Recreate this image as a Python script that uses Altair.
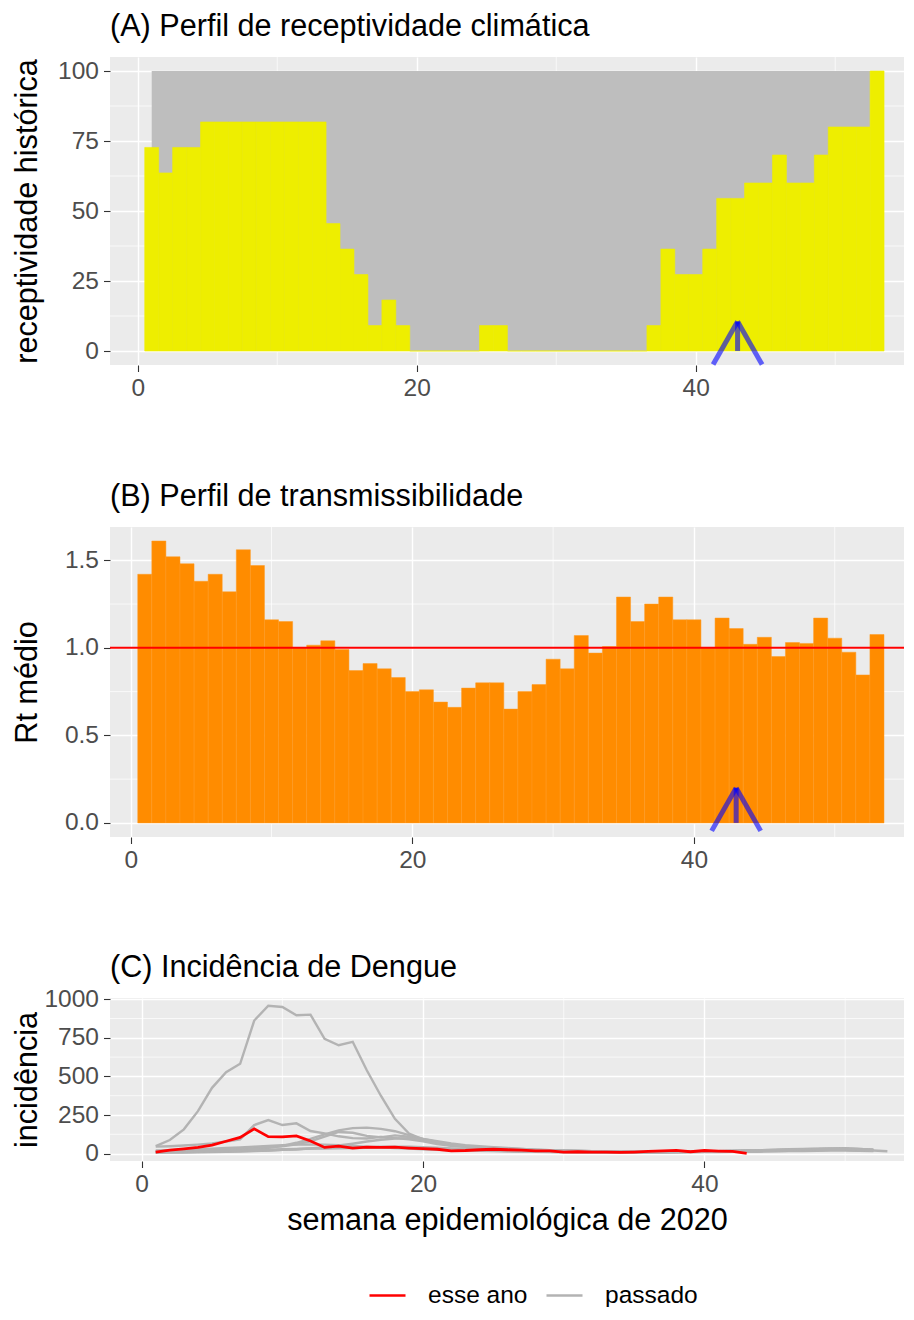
import altair as alt
import pandas as pd

FONT = "Liberation Sans"
BG = "#ebebeb"

# ---------------- data ----------------
weeks = list(range(1, 54))
receptividade = [72.7, 63.6, 72.7, 72.7, 81.8, 81.8, 81.8, 81.8, 81.8, 81.8,
                 81.8, 81.8, 81.8, 45.5, 36.4, 27.3, 9.1, 18.2, 9.1, 0,
                 0, 0, 0, 0, 9.1, 9.1, 0, 0, 0, 0,
                 0, 0, 0, 0, 0, 0, 9.1, 36.4, 27.3, 27.3,
                 36.4, 54.5, 54.5, 60, 60, 70, 60, 60, 70, 80,
                 80, 80, 100]
hist_start = [1.0]
hist_end = [52.5]
hist_top = [100]

rt_medio = [1.42, 1.61, 1.52, 1.48, 1.38, 1.42, 1.32, 1.56, 1.47, 1.16,
            1.15, 1.00, 1.015, 1.04, 0.99, 0.87, 0.91, 0.88, 0.83, 0.75,
            0.76, 0.69, 0.66, 0.77, 0.80, 0.80, 0.65, 0.75, 0.79, 0.935,
            0.88, 1.07, 0.97, 1.007, 1.29, 1.15, 1.25, 1.29, 1.16, 1.16,
            1.00, 1.17, 1.11, 1.02, 1.06, 0.95, 1.03, 1.025, 1.17, 1.055,
            0.975, 0.845, 1.076]
rt_ref = [1.0]

semana_atual = [43]
ponta_a = [10.5]
ponta_b = [0.2]

inc_2020 = [10, 22, 30, 40, 55, 80, 105, 160, 110, 108, 115, 82, 40, 48, 35,
            42, 40, 42, 36, 32, 28, 18, 20, 25, 28, 25, 22, 18, 18, 10,
            12, 10, 10, 8, 10, 14, 18, 21, 12, 20, 16, 14, 2]

inc_passado = {
    "p1": [49, 88, 157, 275, 426, 527, 582, 862, 958, 950, 896, 900, 743, 702, 724,
           540, 375, 225, 130, 92, 70, 52, 44, 38, 33, 30, 27, 24, 20, 18,
           16, 14, 13, 12, 11, 11, 10, 10, 12, 11, 10, 12, 13, 14, 16,
           18, 20, 22, 25, 24, 22, 18],
    "p2": [45, 48, 52, 58, 66, 78, 92, 185, 217, 185, 196, 146, 131, 112, 100,
           98, 108, 100, 92, 80, 62, 50, 45, 42, 38, 34, 30, 26, 22, 20,
           18, 16, 15, 14, 13, 12, 12, 13, 15, 14, 16, 18, 20, 22, 25,
           28, 30, 32, 34, 35, 30, 25],
    "p3": [10, 12, 14, 16, 18, 20, 25, 30, 38, 50, 70, 95, 125, 150, 165,
           168, 160, 145, 120, 95, 75, 60, 50, 42, 36, 30, 26, 22, 20, 18,
           16, 14, 12, 12, 11, 10, 10, 11, 12, 13, 14, 15, 16, 18, 20,
           22, 24, 26, 28, 30, 28, 24],
    "p4": [15, 17, 19, 21, 24, 27, 30, 35, 40, 48, 60, 80, 110, 140, 135,
           115, 105, 118, 110, 90, 70, 55, 45, 38, 32, 28, 24, 20, 18, 16,
           14, 12, 11, 10, 10, 9, 9, 10, 11, 12, 13, 14, 15, 16, 18,
           20, 22, 24, 26, 25, 22, 20],
    "p5": [8, 9, 10, 11, 12, 14, 16, 18, 20, 24, 28, 34, 42, 52, 64,
           78, 90, 98, 100, 95, 80, 65, 55, 48, 42, 36, 30, 26, 22, 20,
           18, 16, 14, 13, 12, 11, 11, 12, 13, 14, 15, 16, 18, 20, 22,
           24, 26, 28, 30, 32, 30, 26],
    "p6": [20, 22, 25, 28, 32, 36, 40, 45, 50, 55, 58, 60, 58, 55, 50,
           45, 40, 36, 32, 28, 25, 22, 20, 18, 16, 14, 12, 11, 10, 9,
           8, 8, 7, 7, 7, 7, 8, 8, 9, 10, 11, 12, 13, 14, 15,
           16, 17, 18, 19, 20, 18, 16],
    "p7": [5, 6, 7, 8, 10, 12, 14, 16, 20, 24, 28, 32, 35, 38, 40,
           42, 44, 45, 44, 42, 38, 34, 30, 26, 22, 19, 16, 14, 12, 10,
           9, 8, 8, 7, 7, 8, 9, 10, 12, 14, 16, 18, 20, 22, 24,
           26, 28, 30, 32, 30, 26, 20, 15],
    "p8": [12, 13, 14, 15, 16, 18, 20, 22, 25, 28, 30, 32, 34, 35, 36,
           38, 40, 40, 38, 36, 33, 30, 27, 24, 21, 18, 16, 14, 12, 11,
           10, 9, 9, 8, 8, 8, 9, 10, 11, 12, 14, 16, 18, 20, 22,
           24, 26, 28, 30, 28, 25, 22],
}

x_ticks = [0, 20, 40]
x_minor = [10, 30, 50]
ya_ticks = [0, 25, 50, 75, 100]
ya_minor = [12.5, 37.5, 62.5, 87.5]
yb_ticks = [0, 0.5, 1.0, 1.5]
yb_minor = [0.25, 0.75, 1.25]
yc_ticks = [0, 250, 500, 750, 1000]
yc_minor = [125, 375, 625, 875]

# ---------------- tables ----------------
df_a = pd.DataFrame({"semana": weeks, "valor": receptividade})
df_a["x0"] = df_a["semana"] - 0.5
df_a["x1"] = df_a["semana"] + 0.5
df_a["base"] = 0.0
df_hist = pd.DataFrame({"ini": hist_start, "fim": hist_end, "topo": hist_top})
df_hist["base"] = 0.0
df_b = pd.DataFrame({"semana": weeks, "rt": rt_medio})
df_b["x0"] = df_b["semana"] - 0.5
df_b["x1"] = df_b["semana"] + 0.5
df_b["base"] = 0.0
df_ref = pd.DataFrame({"rt": rt_ref})
df_arrow_a = pd.DataFrame({"semana": semana_atual, "ponta": ponta_a, "base": [0.0]})
df_arrow_b = pd.DataFrame({"semana": semana_atual, "ponta": ponta_b, "base": [0.0]})

rows = []
for ano, vals in inc_passado.items():
    for i, v in enumerate(vals):
        rows.append({"ano": ano, "semana": i + 1, "inc": v, "tipo": "passado"})
df_past = pd.DataFrame(rows)
df_now = pd.DataFrame({"ano": "2020", "semana": list(range(1, len(inc_2020) + 1)),
                       "inc": inc_2020, "tipo": "esse ano"})

# ---------------- helpers ----------------
TS = 30.6   # title size
LS = 24.5   # tick label size
AX = dict(grid=True, gridColor="white", gridWidth=1.4, domain=False,
          tickColor="#333333", tickSize=6.5, tickWidth=1.1, labelFont=FONT,
          labelFontSize=LS, labelColor="#4d4d4d", labelPadding=5, titleFont=FONT,
          titleFontSize=TS, titleFontWeight="normal", titleColor="black")


def x_axis(title=None):
    return alt.Axis(values=x_ticks, title=title, titlePadding=9.5, **AX)


def y_axis(values, title, pad, fmt):
    return alt.Axis(values=values, title=title, titlePadding=pad, format=fmt, **AX)


def minor_layers(xs, ys, xax, yax, xvals, yvals):
    gx = alt.Chart(pd.DataFrame({"v": xvals})).mark_rule(
        color="white", strokeWidth=0.7).encode(x=alt.X("v:Q", scale=xs, axis=xax))
    gy = alt.Chart(pd.DataFrame({"v": yvals})).mark_rule(
        color="white", strokeWidth=0.7).encode(y=alt.Y("v:Q", scale=ys, axis=yax))
    return [gx, gy]


def ptitle(text, off):
    return alt.TitleParams(text=text, anchor="start", frame="group", font=FONT,
                           fontSize=TS, fontWeight="normal", color="black",
                           offset=off)


def arrow_layers(df, xs, ys, xax, yax):
    st = dict(color="blue", opacity=0.6, strokeWidth=5)
    shaft = alt.Chart(df).mark_rule(**st).encode(
        x=alt.X("semana:Q", scale=xs, axis=xax),
        y=alt.Y("base:Q", scale=ys, axis=yax),
        y2=alt.Y2("ponta:Q"))
    left = alt.Chart(df).mark_rule(x2Offset=-24.5, y2Offset=43, **st).encode(
        x=alt.X("semana:Q", scale=xs, axis=xax), x2=alt.X2("semana:Q"),
        y=alt.Y("ponta:Q", scale=ys, axis=yax), y2=alt.Y2("ponta:Q"))
    right = alt.Chart(df).mark_rule(x2Offset=24.5, y2Offset=43, **st).encode(
        x=alt.X("semana:Q", scale=xs, axis=xax), x2=alt.X2("semana:Q"),
        y=alt.Y("ponta:Q", scale=ys, axis=yax), y2=alt.Y2("ponta:Q"))
    return [shaft, left, right]

W = 794

# ---------------- panel A ----------------
xa = alt.Scale(domain=[-1.99, 54.93], nice=False, zero=False)
ya = alt.Scale(domain=[-5, 105], nice=False, zero=False)
xax_a = x_axis()
yax_a = y_axis(ya_ticks, "receptividade histórica", 15, "d")

hist = alt.Chart(df_hist).mark_rect(color="#bebebe").encode(
    x=alt.X("ini:Q", scale=xa, axis=xax_a),
    x2=alt.X2("fim:Q"),
    y=alt.Y("base:Q", scale=ya, axis=yax_a),
    y2=alt.Y2("topo:Q"))
bars_a = alt.Chart(df_a).mark_rect(color="#eeee00", stroke="#eeee00",
                                   strokeWidth=0.6).encode(
    x=alt.X("x0:Q", scale=xa, axis=xax_a), x2=alt.X2("x1:Q"),
    y=alt.Y("base:Q", scale=ya, axis=yax_a), y2=alt.Y2("valor:Q"))

panel_a = alt.layer(*minor_layers(xa, ya, xax_a, yax_a, x_minor, ya_minor), hist, bars_a,
                    *arrow_layers(df_arrow_a, xa, ya, xax_a, yax_a)).properties(
    width=W, height=308, title=ptitle("(A) Perfil de receptividade climática", 14.4))

# ---------------- panel B ----------------
xb = alt.Scale(domain=[-1.47, 54.92], nice=False, zero=False)
yb = alt.Scale(domain=[-0.0805, 1.69], nice=False, zero=False)
xax_b = x_axis()
yax_b = y_axis(yb_ticks, "Rt médio", 21.8, ".1f")

bars_b = alt.Chart(df_b).mark_rect(color="#ff8c00", stroke="#ff9a20",
                                   strokeWidth=0.5).encode(
    x=alt.X("x0:Q", scale=xb, axis=xax_b), x2=alt.X2("x1:Q"),
    y=alt.Y("base:Q", scale=yb, axis=yax_b),
    y2=alt.Y2("rt:Q"))
ref_b = alt.Chart(df_ref).mark_rule(color="red", strokeWidth=2).encode(
    y=alt.Y("rt:Q", scale=yb, axis=yax_b))

panel_b = alt.layer(*minor_layers(xb, yb, xax_b, yax_b, x_minor, yb_minor), bars_b, ref_b,
                    *arrow_layers(df_arrow_b, xb, yb, xax_b, yax_b)).properties(
    width=W, height=310, title=ptitle("(B) Perfil de transmissibilidade", 14.4))

# ---------------- panel C ----------------
xc = alt.Scale(domain=[-2.25, 54.18], nice=False, zero=False)
yc = alt.Scale(domain=[-48, 1008], nice=False, zero=False)
xax_c = x_axis("semana epidemiológica de 2020")
yax_c = y_axis(yc_ticks, "incidência", 1, "d")
color = alt.Color("tipo:N",
                  scale=alt.Scale(domain=["esse ano", "passado"], range=["#ff0000", "#b3b3b3"]),
                  legend=alt.Legend(title=None, orient="none", legendX=258, legendY=1219,
                                    direction="horizontal", symbolType="stroke",
                                    symbolSize=1296, symbolStrokeWidth=2.5,
                                    labelFont=FONT, labelFontSize=LS, labelColor="black",
                                    labelOffset=21, columnPadding=13))

past = alt.Chart(df_past).mark_line(strokeWidth=2.4).encode(
    x=alt.X("semana:Q", scale=xc, axis=xax_c),
    y=alt.Y("inc:Q", scale=yc, axis=yax_c),
    detail="ano:N", color=color)
now = alt.Chart(df_now).mark_line(strokeWidth=2.8).encode(
    x=alt.X("semana:Q", scale=xc, axis=xax_c),
    y=alt.Y("inc:Q", scale=yc, axis=yax_c),
    detail="ano:N", color=color)

panel_c = alt.layer(*minor_layers(xc, yc, xax_c, yax_c, x_minor, yc_minor), past, now).properties(
    width=W, height=163, title=ptitle("(C) Incidência de Dengue", 2.4))

chart = alt.concat(panel_a, panel_b, panel_c, columns=1, spacing=81).properties(
    padding={"left": 4, "top": 3, "right": 0, "bottom": 0},
    background="white",
).configure_view(fill=BG, stroke=None)

chart.save("out.html", embed_options={"renderer": "svg", "actions": False})
